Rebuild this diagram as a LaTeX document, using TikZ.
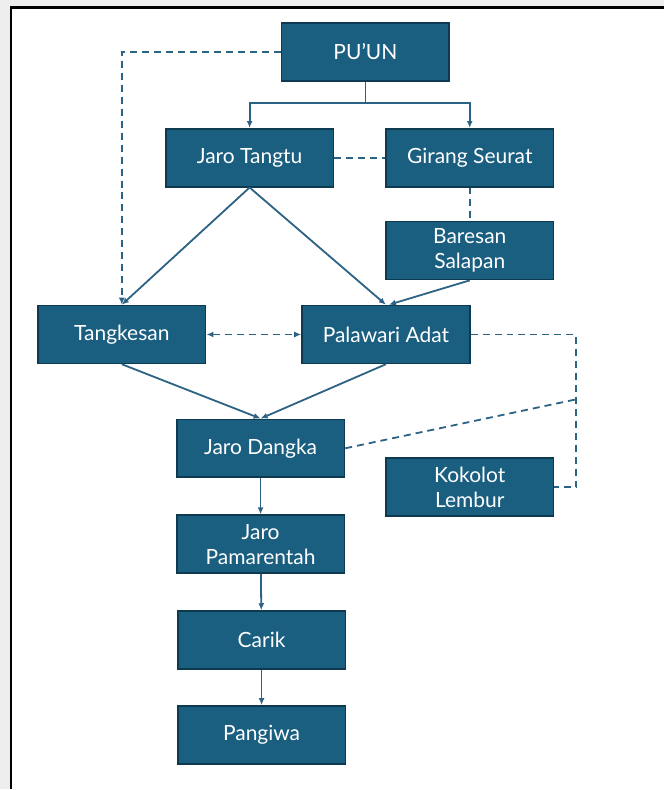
\documentclass[tikz,border=0pt]{standalone}
\usepackage{fontspec}
\setsansfont{Lato}
\usetikzlibrary{arrows.meta}
\definecolor{boxfill}{HTML}{1A5E80}
\definecolor{boxline}{HTML}{0E3A50}
\definecolor{linkcol}{HTML}{2C6283}
\definecolor{paper}{HTML}{EEEEEE}

\begin{document}
\begin{tikzpicture}[x=1pt,y=-1pt,
	box/.style={draw=boxline,line width=1.6pt,fill=boxfill,text=white,
		minimum width=168pt,minimum height=58pt,align=center,inner sep=2pt,
		font=\sffamily\fontsize{21}{25}\selectfont},
	link/.style={draw=linkcol,line width=1.8pt,-{Latex[length=7pt,width=6pt]}},
	dashlink/.style={draw=linkcol,line width=1.8pt,dash pattern=on 7pt off 5pt}]
% page and frame
\fill[paper] (0,0) rectangle (665,790);
\fill[white] (11,7.5) rectangle (665,790);
\draw[line width=2.5pt] (11,790) -- (11,7.5) -- (665,7.5);
\useasboundingbox (0,0) rectangle (665,790);
% boxes
\node[box] (puun) at (366,52) {PU'UN};
\node[box] (tangtu) at (250,158) {Jaro Tangtu};
\node[box] (girang) at (470.5,158) {Girang Seurat};
\node[box] (baresan) at (470.5,251) {Baresan\\Salapan};
\node[box] (tangkesan) at (122,335) {Tangkesan};
\node[box] (palawari) at (386.5,335) {Palawari Adat};
\node[box] (dangka) at (261,449) {Jaro Dangka};
\node[box] (kokolot) at (470.5,488) {Kokolot\\Lembur};
\node[box] (pamarentah) at (261,545) {Jaro\\Pamarentah};
\node[box] (carik) at (262,641) {Carik};
\node[box] (pangiwa) at (262,736) {Pangiwa};
% helper points
\coordinate (split) at (366,103);
\coordinate (corner) at (577,335);
\coordinate (joint) at (577,400);
\coordinate (foot) at (577,488);
% solid links
\draw[draw=linkcol,line width=1.8pt] (puun.south) -- (split);
\draw[link] (split) -| (tangtu.north);
\draw[link] (split) -| (girang.north);
\draw[link] (tangtu.south) -- (tangkesan.north);
\draw[link] (tangtu.south) -- (palawari.north);
\draw[link] (baresan.south) -- ([xshift=3pt]palawari.north);
\draw[link] (tangkesan.south) -- (dangka.north);
\draw[link] (palawari.south) -- (dangka.north);
\draw[link] (dangka) -- (pamarentah);
\draw[link] (pamarentah) -- (carik);
\draw[link] (carik) -- (pangiwa);
% dashed links
\draw[dashlink,-{Latex[length=7pt,width=6pt]}] (puun.west) -| (tangkesan.north);
\draw[dashlink] (tangtu.east) -- (girang.west);
\draw[dashlink] (girang.south) -- (baresan.north);
\draw[dashlink,{Latex[length=7pt,width=6pt]}-{Latex[length=7pt,width=6pt]}] (tangkesan.east) -- (palawari.west);
\draw[dashlink] (palawari.east) -- (corner) -- (foot) -- (kokolot.east);
\draw[dashlink] (dangka.east) -- (joint);
\end{tikzpicture}
\end{document}
